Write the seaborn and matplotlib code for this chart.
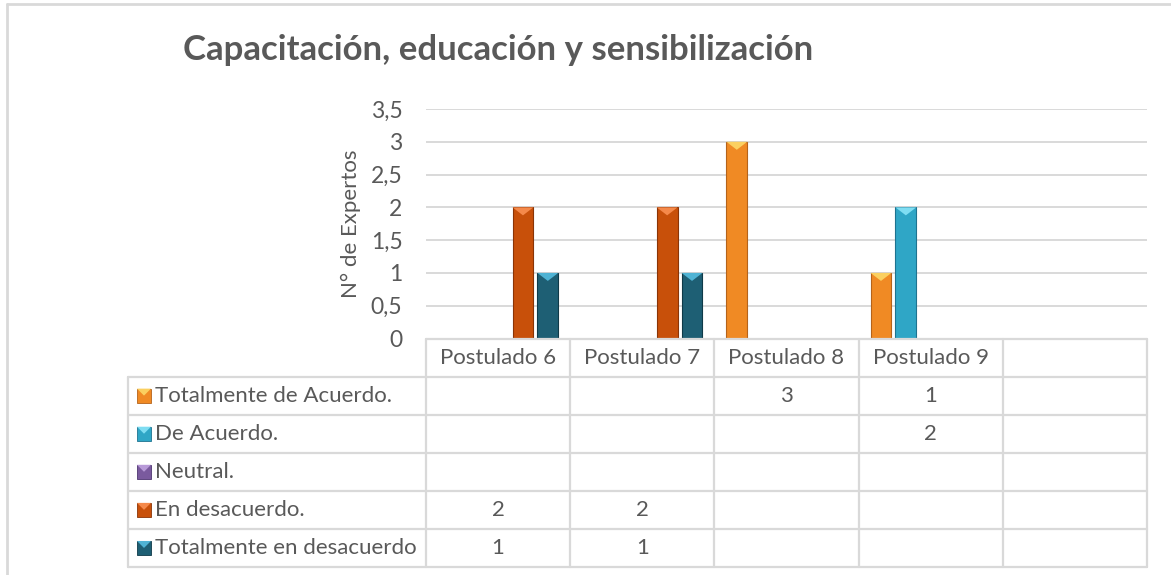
import numpy as np
import pandas as pd
import matplotlib
matplotlib.use("Agg")
import matplotlib.pyplot as plt
from matplotlib.patches import Polygon, Rectangle
from matplotlib.lines import Line2D
from matplotlib.ticker import FuncFormatter
import seaborn as sns

# -------- DATA --------
postulados = ["Postulado 6", "Postulado 7", "Postulado 8", "Postulado 9", ""]
series = ["Totalmente de Acuerdo.", "De Acuerdo.", "Neutral.",
          "En desacuerdo.", "Totalmente en desacuerdo"]
tot_acuerdo = [np.nan, np.nan, 3, 1, np.nan]
de_acuerdo = [np.nan, np.nan, np.nan, 2, np.nan]
neutral = [np.nan, np.nan, np.nan, np.nan, np.nan]
en_desacuerdo = [2, 2, np.nan, np.nan, np.nan]
tot_desacuerdo = [1, 1, np.nan, np.nan, np.nan]
y_ticks = [0, 0.5, 1, 1.5, 2, 2.5, 3, 3.5]
# ----------------------

valores = [tot_acuerdo, de_acuerdo, neutral, en_desacuerdo, tot_desacuerdo]
colores = ["#F08A24", "#2FA6C6", "#7A5A9E", "#C8500A", "#1E5F74"]
claros = ["#FBD060", "#7FDDF2", "#B89AD8", "#F5894A", "#4FB3D4"]
oscuros = ["#B5631A", "#1E7390", "#4E3570", "#8A3406", "#0F3A48"]

rows = []
for s, vals in zip(series, valores):
    for p, v in zip(postulados, vals):
        rows.append({"postulado": p, "serie": s, "expertos": v})
df = pd.DataFrame(rows).dropna()

TXT = "#595959"
GRID = "#D9D9D9"
FONT = "Lato"
W, H = 1171, 575
TAB_FS = 16

sns.set_style("white")
plt.rcParams["font.family"] = [FONT, "DejaVu Sans"]

fig = plt.figure(figsize=(W / 100, H / 100), dpi=100)

# pixel helpers
def fx(px):
    return px / W

def fy(py):
    return 1 - py / H

x_left, x_right = 426, 1147
y_zero, y_top = 338.5, 109
ax = fig.add_axes([fx(x_left), fy(y_zero), fx(x_right) - fx(x_left), fy(y_top) - fy(y_zero)])

sns.barplot(data=df, x="postulado", y="expertos", hue="serie",
            order=postulados, hue_order=series, palette=colores,
            width=0.862, gap=0.16, saturation=1, linewidth=0,
            legend=False, ax=ax)

# bevel look on each bar
ppu = (y_zero - y_top) / 3.5
for patch in ax.patches:
    hexc = matplotlib.colors.to_hex(patch.get_facecolor()).upper()
    if hexc not in colores:
        continue
    i = colores.index(hexc)
    x0 = patch.get_x()
    w = patch.get_width()
    h = patch.get_height()
    patch.set_edgecolor(oscuros[i])
    patch.set_linewidth(0.8)
    d = 8 / ppu
    tri = Polygon([[x0, h], [x0 + w, h], [x0 + w / 2, h - d]], closed=True,
                  facecolor=claros[i], edgecolor="none", zorder=3)
    ax.add_patch(tri)

ax.set_xlim(-0.5, len(postulados) - 0.5)
ax.set_ylim(0, 3.5)
ax.set_yticks(y_ticks)
ax.yaxis.set_major_formatter(FuncFormatter(lambda v, _: f"{v:g}".replace(".", ",")))
ax.set_xticks([])
ax.set_xlabel("")
ax.set_ylabel("N° de Expertos", fontsize=16, color=TXT)
ax.yaxis.label.set_va("center")
ax.yaxis.set_label_coords((351 - x_left) / (x_right - x_left), 0.5)
ax.tick_params(axis="y", length=0, labelsize=16.5, labelcolor=TXT, pad=17)
ax.grid(axis="y", color=GRID, linewidth=1.4)
ax.set_axisbelow(True)
for sp in ax.spines.values():
    sp.set_visible(False)

# title
fig.text(fx(183), fy(50), "Capacitación, educación y sensibilización",
         fontsize=25, fontweight="bold", color=TXT, va="center", ha="left")

# -------- data table --------
tab_left = 128
col_edges = [x_left + k * (x_right - x_left) / len(postulados) for k in range(len(postulados) + 1)]
row_edges = list(np.linspace(y_zero, 567, len(series) + 2))

def hline(y, x0, x1):
    fig.add_artist(Line2D([fx(x0), fx(x1)], [fy(y), fy(y)], color=GRID, lw=1.6))

def vline(x, y0, y1):
    fig.add_artist(Line2D([fx(x), fx(x)], [fy(y0), fy(y1)], color=GRID, lw=1.6))

hline(row_edges[0], col_edges[0], col_edges[-1])
for y in row_edges[1:]:
    hline(y, tab_left, col_edges[-1])
for x in col_edges:
    vline(x, row_edges[0], row_edges[-1])
vline(tab_left, row_edges[1], row_edges[-1])

for j, p in enumerate(postulados):
    xc = (col_edges[j] + col_edges[j + 1]) / 2
    yc = (row_edges[0] + row_edges[1]) / 2
    fig.text(fx(xc), fy(yc), p, fontsize=TAB_FS, color=TXT, ha="center", va="center")

for i, (s, vals) in enumerate(zip(series, valores)):
    yc = (row_edges[i + 1] + row_edges[i + 2]) / 2
    sq = 14
    fig.add_artist(Rectangle((fx(137), fy(yc + sq / 2)), fx(sq), sq / H,
                             facecolor=colores[i], edgecolor=oscuros[i], lw=0.6))
    fig.add_artist(Polygon([[fx(137), fy(yc - sq / 2)], [fx(137 + sq), fy(yc - sq / 2)],
                            [fx(137 + sq / 2), fy(yc)]], closed=True,
                           facecolor=claros[i], edgecolor="none"))
    fig.text(fx(155), fy(yc), s, fontsize=TAB_FS, color=TXT, ha="left", va="center")
    for j, v in enumerate(vals):
        if not np.isnan(v):
            xc = (col_edges[j] + col_edges[j + 1]) / 2
            fig.text(fx(xc), fy(yc), f"{v:g}", fontsize=TAB_FS, color=TXT,
                     ha="center", va="center")

# outer frame (top and left)
fig.add_artist(Line2D([fx(7), fx(W)], [fy(4), fy(4)], color=GRID, lw=2))
fig.add_artist(Line2D([fx(7), fx(7)], [fy(4), fy(H)], color=GRID, lw=2))

fig.savefig("out.png", dpi=100, facecolor="white")
